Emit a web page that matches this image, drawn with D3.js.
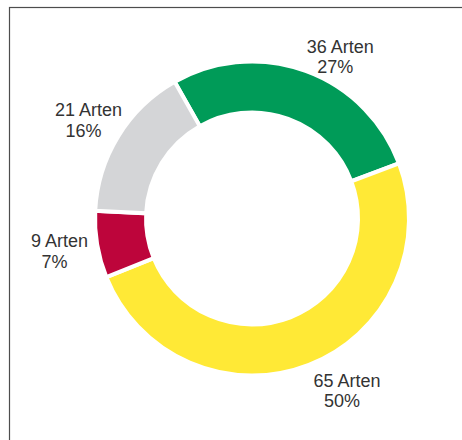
<!DOCTYPE html>
<html>
<head>
<meta charset="utf-8">
<script src="https://cdn.jsdelivr.net/npm/d3@7"></script>
<style>
  html, body { margin: 0; padding: 0; background: #fff; }
  svg { display: block; }
</style>
</head>
<body>
<div id="chart"></div>
<script>
// data
const categories = ['grün', 'gelb', 'rot', 'grau'];
const counts = [36, 65, 9, 21];
const percents = ['27%', '50%', '7%', '16%'];
const colors = ['#009b58', '#ffe936', '#bd053b', '#d4d5d7'];
// small nudges of the labels away from the slice mid angle
const labelNudge = [[25, 13], [28, 1], [-10, 3], [-6, 0]];

const width = 462, height = 440;
const center = { x: 252, y: 218.5 };
const outerR = 157, innerR = 106;
const startAngle = -29.5 * Math.PI / 180;

const svg = d3.select('#chart')
  .append('svg')
  .attr('width', width)
  .attr('height', height);

// frame
svg.append('rect')
  .attr('x', 9.5)
  .attr('y', 7.5)
  .attr('width', 480)
  .attr('height', 460)
  .attr('fill', 'none')
  .attr('stroke', '#4d4d4d')
  .attr('stroke-width', 1.2);

const pie = d3.pie()
  .sort(null)
  .value(d => d)
  .startAngle(startAngle)
  .endAngle(startAngle + 2 * Math.PI);

const arcs = pie(counts);

const arc = d3.arc().innerRadius(innerR).outerRadius(outerR);
const labelArc = d3.arc().innerRadius(185).outerRadius(185);

const g = svg.append('g')
  .attr('transform', `translate(${center.x},${center.y})`);

g.selectAll('path')
  .data(arcs)
  .enter()
  .append('path')
  .attr('d', arc)
  .attr('fill', (d, i) => colors[i])
  .attr('stroke', '#fff')
  .attr('stroke-width', 4)
  .attr('stroke-linejoin', 'miter');

const labels = g.selectAll('g.label')
  .data(arcs)
  .enter()
  .append('g')
  .attr('class', 'label')
  .attr('transform', (d, i) => {
    const c = labelArc.centroid(d);
    return `translate(${c[0] + labelNudge[i][0]},${c[1] + labelNudge[i][1]})`;
  });

labels.append('text')
  .attr('text-anchor', 'middle')
  .attr('y', -5)
  .style('font-family', '"Liberation Sans", Arial, sans-serif')
  .style('font-size', '18px')
  .style('fill', '#333')
  .text((d, i) => `${counts[i]} Arten`);

labels.append('text')
  .attr('text-anchor', 'middle')
  .attr('x', -5)
  .attr('y', 15.5)
  .style('font-family', '"Liberation Sans", Arial, sans-serif')
  .style('font-size', '18px')
  .style('fill', '#333')
  .text((d, i) => percents[i]);
</script>
</body>
</html>
